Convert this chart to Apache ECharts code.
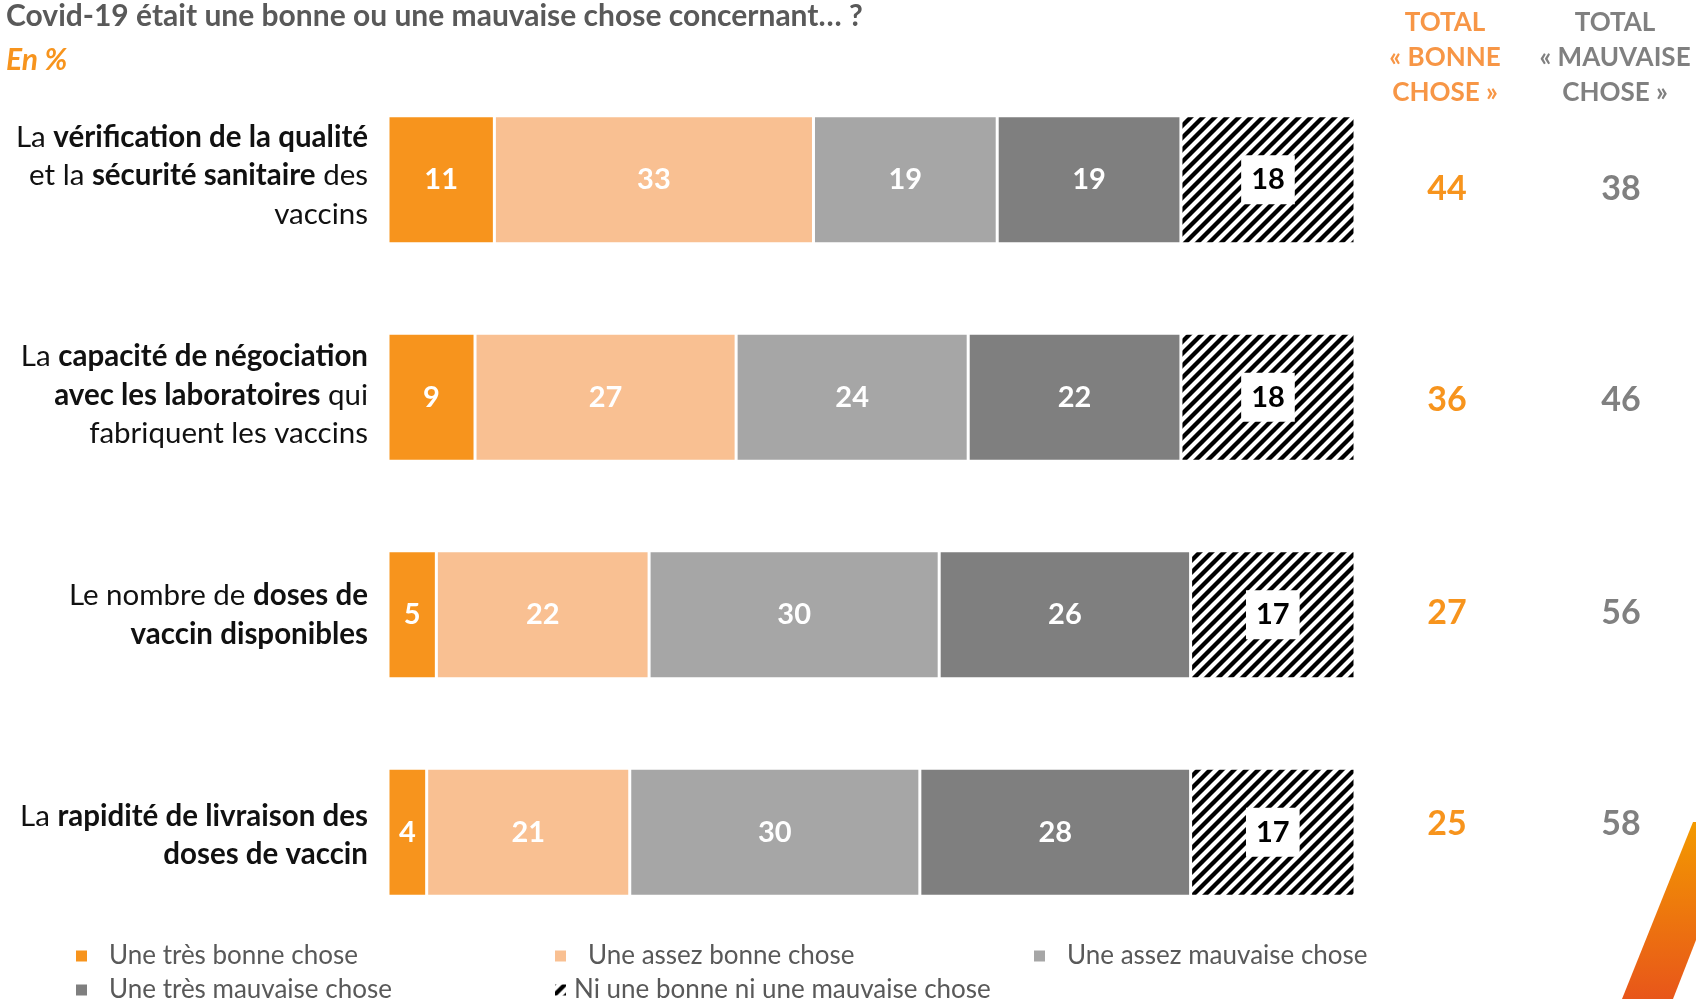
<!DOCTYPE html>
<html>
<head>
<meta charset="utf-8">
<script src="https://cdn.jsdelivr.net/npm/echarts@6/dist/echarts.min.js"></script>
<style>
html,body{margin:0;padding:0;background:#fff;}
#chart{width:1696px;height:999px;}
</style>
</head>
<body>
<div id="chart"></div>
<script>
// ---- data ----
const categories = [
  'La vérification de la qualité et la sécurité sanitaire des vaccins',
  'La capacité de négociation avec les laboratoires qui fabriquent les vaccins',
  'Le nombre de doses de vaccin disponibles',
  'La rapidité de livraison des doses de vaccin'
];
const categoryLabels = [
  '{r|La }{b|vérification de la qualité}\n{r|et la }{b|sécurité sanitaire}{r| des}\n{r|vaccins}',
  '{r|La }{b|capacité de négociation}\n{b|avec les laboratoires}{r| qui}\n{r|fabriquent les vaccins}',
  '{r|Le nombre de }{b|doses de}\n{b|vaccin disponibles}',
  '{r|La }{b|rapidité de livraison des}\n{b|doses de vaccin}'
];
const seriesNames = [
  'Une très bonne chose',
  'Une assez bonne chose',
  'Une assez mauvaise chose',
  'Une très mauvaise chose',
  'Ni une bonne ni une mauvaise chose'
];
const tresBonne = [11, 9, 5, 4];
const assezBonne = [33, 27, 22, 21];
const assezMauvaise = [19, 24, 30, 30];
const tresMauvaise = [19, 22, 26, 28];
const niBonneNiMauvaise = [18, 18, 17, 17];
const totalBonne = [44, 36, 27, 25];
const totalMauvaise = [38, 46, 56, 58];
const headerBonne = 'TOTAL\n« BONNE\nCHOSE »';
const headerMauvaise = 'TOTAL\n« MAUVAISE\nCHOSE »';
const titleText = 'Covid-19 était une bonne ou une mauvaise chose concernant… ?';
const subtitleText = 'En %';

// ---- hatch pattern ----
function makeHatch() {
  const s = 12;
  const c = document.createElement('canvas');
  c.width = s; c.height = s;
  const ctx = c.getContext('2d');
  ctx.fillStyle = '#fff';
  ctx.fillRect(0, 0, s, s);
  ctx.strokeStyle = '#000';
  ctx.lineWidth = 4.3;
  ctx.beginPath();
  ctx.moveTo(-2, 2); ctx.lineTo(2, -2);
  ctx.moveTo(0, s); ctx.lineTo(s, 0);
  ctx.moveTo(s - 2, s + 2); ctx.lineTo(s + 2, s - 2);
  ctx.stroke();
  return c;
}
const hatch = { image: makeHatch(), repeat: 'repeat' };

const FONT = 'Lato';
const colors = ['#F7941D', '#F9C092', '#A6A6A6', '#7F7F7F', hatch];
const seriesData = [tresBonne, assezBonne, assezMauvaise, tresMauvaise, niBonneNiMauvaise];

const series = seriesData.map((d, i) => ({
  name: seriesNames[i],
  type: 'bar',
  stack: 'total',
  barWidth: 128,
  data: d,
  itemStyle: { color: colors[i], borderColor: '#fff', borderWidth: 1.5 },
  label: i === 4 ? {
    show: true, position: 'inside', color: '#000', fontFamily: FONT,
    fontWeight: 'bold', fontSize: 29, backgroundColor: '#fff', padding: [11, 10, 9, 10]
  } : {
    show: true, position: 'inside', color: '#fff', fontFamily: FONT,
    fontWeight: 'bold', fontSize: 29
  },
  emphasis: { disabled: true }
}));

const legendPos = [
  { left: 74, top: 943 },
  { left: 553, top: 943 },
  { left: 1032, top: 943 },
  { left: 74, top: 977 },
  { left: 553, top: 977 }
];
const legends = seriesNames.map((n, i) => ({
  data: [n],
  left: legendPos[i].left,
  top: legendPos[i].top,
  icon: 'rect',
  itemWidth: 13,
  itemHeight: 13,
  selectedMode: false,
  padding: 0,
  textStyle: {
    fontFamily: FONT, fontSize: 26, color: '#595959',
    padding: [0, 0, 0, i === 4 ? 2 : 16]
  }
}));

// vertical nudges (px) of the text columns, as in the reference layout
const totalShift = [9, 3, -2, -8];
const labelShift = [-4, -2, 0, 3];
function shiftPad(s) { return s >= 0 ? [2 * s, 0, 0, 0] : [0, 0, -2 * s, 0]; }
function shiftRich(base) {
  const r = {};
  totalShift.forEach((s, i) => {
    r['t' + i] = Object.assign({}, base, { padding: shiftPad(s) });
  });
  return r;
}

const chart = echarts.init(document.getElementById('chart'), null, { renderer: 'canvas' });
chart.setOption({
  backgroundColor: '#fff',
  animation: false,
  title: {
    text: titleText,
    subtext: subtitleText,
    left: 6, top: 1, padding: 0, itemGap: 14,
    textStyle: { fontFamily: FONT, fontSize: 30, fontWeight: 'bold', color: '#595959' },
    subtextStyle: { fontFamily: FONT, fontSize: 30, fontWeight: 'bold', fontStyle: 'italic', color: '#F7941D' }
  },
  legend: legends,
  grid: { left: 388, right: 341, top: 71, bottom: 58, containLabel: false },
  xAxis: { type: 'value', min: 0, max: 100, show: false },
  yAxis: [
    {
      type: 'category', inverse: true,
      data: categories.map((c, i) => ({ value: c, textStyle: { padding: shiftPad(labelShift[i]) } })),
      axisLine: { show: false }, axisTick: { show: false }, splitLine: { show: false },
      axisLabel: {
        interval: 0, margin: 20, align: 'right',
        formatter: (v, idx) => categoryLabels[idx],
        rich: {
          r: { fontFamily: FONT, fontSize: 29.5, color: '#111', lineHeight: 38.5, align: 'right' },
          b: { fontFamily: FONT, fontSize: 29.5, fontWeight: 'bold', color: '#111', lineHeight: 38.5, align: 'right' }
        }
      }
    },
    {
      type: 'category', data: categories, inverse: true, position: 'right',
      axisLine: { show: false }, axisTick: { show: false }, splitLine: { show: false },
      axisLabel: {
        interval: 0, margin: 92, align: 'center',
        formatter: (v, idx) => '{t' + idx + '|' + totalBonne[idx] + '}',
        rich: shiftRich({ fontFamily: FONT, fontSize: 34, fontWeight: 'bold', color: '#F7941D', align: 'center' })
      }
    },
    {
      type: 'category', data: categories, inverse: true, position: 'right',
      axisLine: { show: false }, axisTick: { show: false }, splitLine: { show: false },
      axisLabel: {
        interval: 0, margin: 266, align: 'center',
        formatter: (v, idx) => '{t' + idx + '|' + totalMauvaise[idx] + '}',
        rich: shiftRich({ fontFamily: FONT, fontSize: 34, fontWeight: 'bold', color: '#808080', align: 'center' })
      }
    }
  ],
  graphic: [
    {
      type: 'text', x: 1445, y: 5,
      style: { text: headerBonne, fontFamily: FONT, fontSize: 26, fontWeight: 'bold',
        fill: '#F79646', lineHeight: 35, align: 'center', verticalAlign: 'top' },
      silent: true
    },
    {
      type: 'text', x: 1615, y: 5,
      style: { text: headerMauvaise, fontFamily: FONT, fontSize: 26, fontWeight: 'bold',
        fill: '#808080', lineHeight: 35, align: 'center', verticalAlign: 'top' },
      silent: true
    },
    {
      type: 'polygon',
      shape: { points: [[1693, 822], [1696, 822], [1696, 940], [1673, 999], [1622, 999]] },
      style: {
        fill: new echarts.graphic.LinearGradient(0, 0, 0, 1, [
          { offset: 0, color: '#F39A00' }, { offset: 1, color: '#E8561A' }
        ])
      },
      silent: true
    }
  ],
  series: series
});
</script>
</body>
</html>
